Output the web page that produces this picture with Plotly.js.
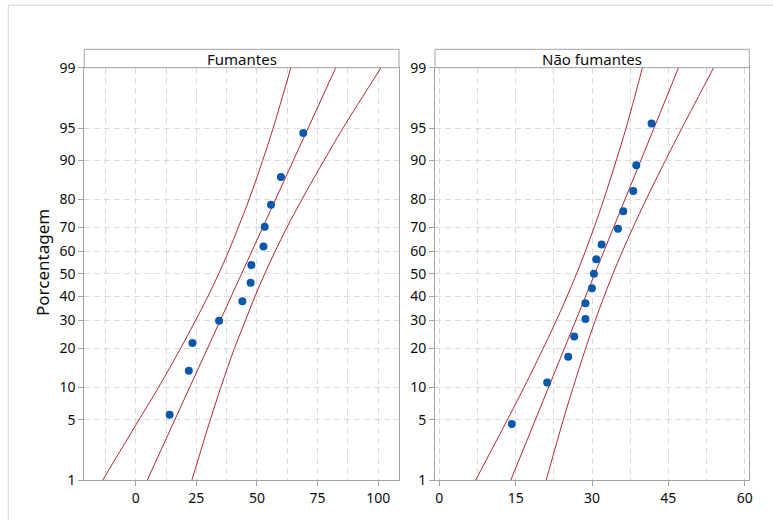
<!DOCTYPE html>
<html>
<head>
<meta charset="utf-8">
<script src="https://cdn.plot.ly/plotly-3.0.1.min.js"></script>
<style>html,body{margin:0;padding:0;background:#fff;}#chart{width:773px;height:520px;}</style>
</head>
<body>
<div id="chart"></div>
<script>
// ---- data ----
const panelTitles = ["Fumantes", "Não fumantes"];
const yTitle = "Porcentagem";
const pctTicks = [1, 5, 10, 20, 30, 40, 50, 60, 70, 80, 90, 95, 99];

const fumX   = [14.0, 21.9, 23.4, 34.4, 44.0, 47.4, 47.7, 52.7, 53.2, 55.8, 59.9, 69.1];
const fumPct = [5.6, 13.7, 21.8, 29.8, 37.9, 46.0, 54.0, 62.1, 70.2, 78.2, 86.3, 94.4];

const naoX   = [14.24, 21.19, 25.32, 26.5, 28.7, 28.7, 29.98, 30.37, 30.83, 31.88, 35.1, 36.14, 38.1, 38.7, 41.7];
const naoPct = [4.5, 11.0, 17.5, 24.0, 30.5, 37.0, 43.5, 50.0, 56.5, 63.0, 69.5, 76.0, 82.5, 89.0, 95.5];

// fitted line and confidence band, read at the percentage levels
const curvePct = [1, 5, 10, 20, 30, 40, 50, 60, 70, 80, 90, 95, 99];
const fumFit   = [4.8, 16.2, 22.3, 29.6, 34.9, 39.4, 43.65, 47.9, 52.4, 57.7, 65.1, 71.1, 82.5];
const fumLow   = [-13.6, 1.4, 9.4, 18.5, 24.7, 29.8, 34.2, 38.3, 42.3, 46.8, 52.4, 56.7, 64.0];
const fumHigh  = [23.2, 30.8, 35.1, 40.7, 45.3, 49.2, 53.2, 57.5, 62.4, 68.6, 77.7, 85.5, 101.2];
const naoFit   = [14.06, 18.88, 21.46, 24.57, 26.82, 28.74, 30.53, 32.32, 34.24, 36.49, 39.6, 42.18, 47.0];
const naoLow   = [7.15, 13.39, 16.63, 20.4, 23.0, 25.1, 26.95, 28.68, 30.42, 32.32, 34.77, 36.69, 39.9];
const naoHigh  = [21.0, 24.37, 26.29, 28.74, 30.64, 32.38, 34.11, 35.96, 38.06, 40.66, 44.43, 47.67, 53.9];

const fumXTicks = [0, 25, 50, 75, 100];
const naoXTicks = [0, 15, 30, 45, 60];

// ---- normal probability scale ----
function normInv(p) {
  const a = [-3.969683028665376e+01, 2.209460984245205e+02, -2.759285104469687e+02, 1.383577518672690e+02, -3.066479806614716e+01, 2.506628277459239e+00];
  const b = [-5.447609879822406e+01, 1.615858368580409e+02, -1.556989798598866e+02, 6.680131188771972e+01, -1.328068155288572e+01];
  const c = [-7.784894002430293e-03, -3.223964580411365e-01, -2.400758277161838e+00, -2.549732539343734e+00, 4.374664141464968e+00, 2.938163982698783e+00];
  const d = [7.784695709041462e-03, 3.224671290700398e-01, 2.445134137142996e+00, 3.754408661907416e+00];
  const pl = 0.02425, ph = 1 - pl;
  let q, r;
  if (p < pl) { q = Math.sqrt(-2 * Math.log(p)); return (((((c[0]*q+c[1])*q+c[2])*q+c[3])*q+c[4])*q+c[5]) / ((((d[0]*q+d[1])*q+d[2])*q+d[3])*q+1); }
  if (p <= ph) { q = p - 0.5; r = q*q; return (((((a[0]*r+a[1])*r+a[2])*r+a[3])*r+a[4])*r+a[5])*q / (((((b[0]*r+b[1])*r+b[2])*r+b[3])*r+b[4])*r+1); }
  q = Math.sqrt(-2 * Math.log(1 - p)); return -(((((c[0]*q+c[1])*q+c[2])*q+c[3])*q+c[4])*q+c[5]) / ((((d[0]*q+d[1])*q+d[2])*q+d[3])*q+1);
}
const z = arr => arr.map(v => normInv(v / 100));

const RED = '#b12a30', BLUE = '#0a58ae', GRAY = '#a3a3a3', GRID = '#dadada';
const FONT = 'Noto Sans, Open Sans, sans-serif';
const TXT = '#0d0d0d';

function curve(x, y, xa, ya, spline) {
  return {x: x, y: z(y), xaxis: xa, yaxis: ya, type: 'scatter', mode: 'lines',
          line: {color: RED, width: 1, shape: spline ? 'spline' : 'linear'}, hoverinfo: 'skip', showlegend: false};
}
function pts(x, y, xa, ya) {
  return {x: x, y: z(y), xaxis: xa, yaxis: ya, type: 'scatter', mode: 'markers',
          marker: {color: BLUE, size: 8}, showlegend: false};
}

const data = [
  curve(fumLow, curvePct, 'x', 'y', true),
  curve(fumFit, curvePct, 'x', 'y', false),
  curve(fumHigh, curvePct, 'x', 'y', true),
  pts(fumX, fumPct, 'x', 'y'),
  curve(naoLow, curvePct, 'x2', 'y2', true),
  curve(naoFit, curvePct, 'x2', 'y2', false),
  curve(naoHigh, curvePct, 'x2', 'y2', true),
  pts(naoX, naoPct, 'x2', 'y2')
];

const W = 773, H = 520;
const px = v => v / W, py = v => 1 - v / H;
const yDom = [py(480), py(67.7)];
const zRange = [normInv(0.01), normInv(0.99)];

function xAxis(dom, range, ticks, minor, anchor) {
  return {domain: dom, range: range, anchor: anchor, tickvals: ticks, ticktext: ticks.map(String),
    showline: true, mirror: true, linecolor: GRAY, linewidth: 1, ticks: 'outside', ticklen: 5, tickcolor: GRAY,
    showgrid: true, gridcolor: GRID, griddash: '6px,4px', zeroline: false,
    minor: {dtick: minor, tick0: 0, showgrid: true, gridcolor: GRID, griddash: '6px,4px', ticks: ''},
    tickfont: {family: FONT, size: 14, color: TXT}, fixedrange: true};
}
function yAxis(anchor) {
  return {domain: yDom, range: zRange, anchor: anchor, tickvals: z(pctTicks), ticktext: pctTicks.map(String),
    showline: true, mirror: true, linecolor: GRAY, linewidth: 1, ticks: 'outside', ticklen: 5, tickcolor: GRAY,
    showgrid: true, gridcolor: GRID, griddash: '6px,4px', zeroline: false,
    tickfont: {family: FONT, size: 14, color: TXT}, fixedrange: true};
}

const d1 = [px(84.3), px(399)], d2 = [px(435), px(749.3)];
const hdrTop = py(49.3), hdrBot = py(67.7);

const layout = {
  width: W, height: H, margin: {l: 0, r: 0, t: 0, b: 0},
  paper_bgcolor: '#fff', plot_bgcolor: '#fff', showlegend: false,
  xaxis: xAxis(d1, [-21.2, 108.6], fumXTicks, 12.5, 'y'),
  yaxis: yAxis('x'),
  xaxis2: xAxis(d2, [-0.85, 60.9], naoXTicks, 7.5, 'y2'),
  yaxis2: yAxis('x2'),
  shapes: [
    {type: 'rect', xref: 'paper', yref: 'paper', x0: px(8.3), x1: 1.02, y0: -0.02, y1: py(5.3), line: {color: '#d3d3d3', width: 1}, fillcolor: 'rgba(0,0,0,0)', layer: 'below'},
    {type: 'rect', xref: 'paper', yref: 'paper', x0: d1[0], x1: d1[1], y0: hdrBot, y1: hdrTop, line: {color: GRAY, width: 1}, fillcolor: '#fff'},
    {type: 'rect', xref: 'paper', yref: 'paper', x0: d2[0], x1: d2[1], y0: hdrBot, y1: hdrTop, line: {color: GRAY, width: 1}, fillcolor: '#fff'}
  ],
  annotations: [
    {xref: 'paper', yref: 'paper', x: (d1[0] + d1[1]) / 2, y: (hdrTop + hdrBot) / 2, text: panelTitles[0], showarrow: false,
     xanchor: 'center', yanchor: 'middle', font: {family: FONT, size: 15, color: TXT}},
    {xref: 'paper', yref: 'paper', x: (d2[0] + d2[1]) / 2, y: (hdrTop + hdrBot) / 2, text: panelTitles[1], showarrow: false,
     xanchor: 'center', yanchor: 'middle', font: {family: FONT, size: 15, color: TXT}},
    {xref: 'paper', yref: 'paper', x: px(42), y: py(263), text: yTitle, showarrow: false, textangle: -90,
     xanchor: 'center', yanchor: 'middle', font: {family: FONT, size: 17, color: TXT}}
  ]
};

Plotly.newPlot('chart', data, layout, {staticPlot: true, displayModeBar: false});
</script>
</body>
</html>
